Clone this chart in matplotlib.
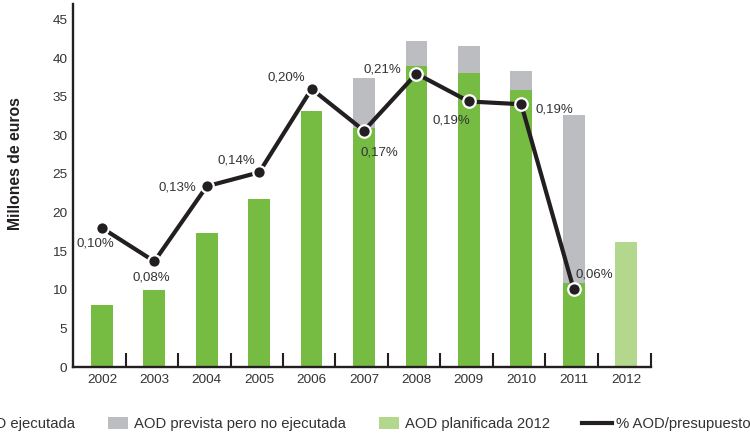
import matplotlib
matplotlib.use("Agg")
import matplotlib.pyplot as plt
from matplotlib.lines import Line2D
import numpy as np

plt.rcParams['font.family'] = ['Liberation Sans', 'DejaVu Sans']

years = ["2002", "2003", "2004", "2005", "2006", "2007", "2008", "2009", "2010", "2011", "2012"]
# millones de euros
aod_ejecutada = [8.0, 10.0, 17.4, 21.8, 33.2, 31.0, 39.0, 38.1, 35.8, 10.9]
aod_prevista = [8.0, 10.0, 17.4, 21.8, 33.2, 37.4, 42.2, 41.6, 38.3, 32.6]
aod_planificada_2012 = 16.2
# % AOD / presupuesto (2002-2011)
pct_presupuesto = [0.100, 0.076, 0.130, 0.140, 0.200, 0.170, 0.211, 0.191, 0.189, 0.056]

# where each % label sits relative to its point (pixels)
label_offsets = [(-7, -16), (-3, -16), (-29, -1), (-23, 12), (-25, 11),
                 (15, -22), (-34, 4), (-17, -19), (33, -5), (21, 15)]

GREEN = "#76bc43"
GREY = "#bcbdc0"
LIGHT = "#b3d78c"
BLACK = "#231f20"
TEXT = "#333333"

fig = plt.figure(figsize=(7.5, 4.33), dpi=100)
ax = fig.add_axes([0.0973, 0.1524, 0.7703, 0.8384])

x = np.arange(len(years))
w = 0.415
n = len(aod_ejecutada)
no_ejecutada = np.array(aod_prevista) - np.array(aod_ejecutada)

ax.bar(x[:n], aod_ejecutada, width=w, color=GREEN, zorder=2, label="AOD ejecutada")
ax.bar(x[:n], no_ejecutada, bottom=aod_ejecutada, width=w, color=GREY, zorder=2,
       label="AOD prevista pero no ejecutada")
ax.bar(x[n], aod_planificada_2012, width=w, color=LIGHT, zorder=2, label="AOD planificada 2012")

ax.set_xlim(-0.553, 10.47)
ax.set_ylim(0, 47)
ax.set_yticks(np.arange(0, 46, 5))
ax.set_xticks(x)
ax.set_xticklabels(years)
ax.set_xticks(list(np.arange(10) + 0.455) + [10.47], minor=True)
ax.tick_params(axis="x", which="major", length=0, pad=5, labelsize=9.7, colors=TEXT)
ax.tick_params(axis="x", which="minor", direction="in", length=10, width=1.5, color=BLACK)
ax.tick_params(axis="y", length=0, pad=4, labelsize=9.7, colors=TEXT)

for side in ["top", "right"]:
    ax.spines[side].set_visible(False)
for side in ["left", "bottom"]:
    ax.spines[side].set_linewidth(1.7)
    ax.spines[side].set_color(BLACK)
    ax.spines[side].set_zorder(3)

ax.set_ylabel("Millones de euros", fontsize=11.3, fontweight="bold", color=BLACK)
ax.yaxis.set_label_coords(-0.087, 0.56)

# percentage line on its own hidden scale (45 M€ <-> 0,25 %)
ax2 = ax.twinx()
ax2.set_ylim(0, 47 / 180)
ax2.axis("off")
ax2.plot(x[:n], pct_presupuesto, color=BLACK, lw=3, marker="o", ms=9,
         mfc=BLACK, mec="white", mew=1.6, zorder=5, clip_on=False)
for xi, p, off in zip(x[:n], pct_presupuesto, label_offsets):
    ax2.annotate(f"{p:.2f}%".replace(".", ","), (xi, p), xytext=off,
                 textcoords="offset pixels", ha="center", va="center",
                 fontsize=9.5, color=TEXT)

# legend along the bottom edge: three bar entries, then the line entry
handles, labels = ax.get_legend_handles_labels()
leg1 = fig.legend(handles, labels, loc="center left", bbox_to_anchor=(-0.0693, 0.02),
                  ncol=3, frameon=False, fontsize=10.7, borderpad=0, borderaxespad=0,
                  handlelength=1.346, handleheight=0.875, handletextpad=0.404,
                  columnspacing=2.22)
leg2 = fig.legend([Line2D([], [], color=BLACK, lw=3)], ["% AOD/presupuesto"],
                  loc="center left", bbox_to_anchor=(0.776, 0.02), frameon=False,
                  fontsize=10.7, borderpad=0, borderaxespad=0,
                  handlelength=2.02, handletextpad=0.27)
for leg in (leg1, leg2):
    for t in leg.get_texts():
        t.set_color(TEXT)

fig.savefig("out.png", dpi=100)
